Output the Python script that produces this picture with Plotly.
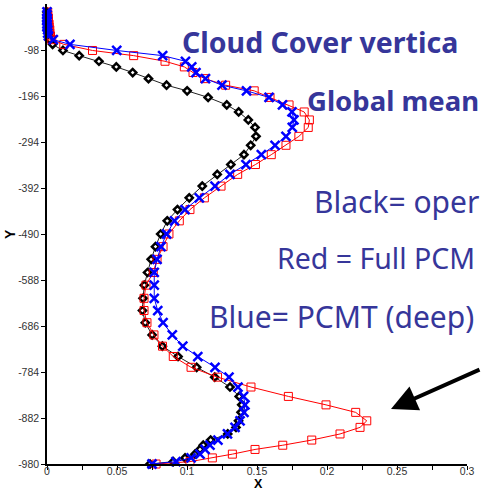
import plotly.graph_objects as go

# Model levels (plotted as negative pressure, top to bottom)
levels = [-17, -23, -30, -36, -43, -49, -55, -62, -68, -76,
          -86, -99, -110, -122, -134, -146, -159, -173, -185, -199,
          -215, -230, -247, -263, -282, -301, -321, -342, -363, -388,
          -413, -438, -462, -490, -517, -544, -572, -599, -627, -653,
          -679, -705, -729, -751, -774, -795, -816, -836, -854, -870,
          -888, -902, -916, -929, -940, -949, -959, -967, -975, -980]

# Cloud fraction: operational scheme
cover_oper = [0.0, 0.0, 0.0, 0.0, 0.0, 0.0005, 0.0005, 0.001, 0.0015, 0.002,
              0.004, 0.0114, 0.023, 0.0371, 0.0495, 0.0612, 0.0725, 0.0854, 0.1001, 0.1151,
              0.1284, 0.1369, 0.1438, 0.1486, 0.1493, 0.1455, 0.1407, 0.1313, 0.1216, 0.1109,
              0.1016, 0.0932, 0.0859, 0.0812, 0.0775, 0.0744, 0.0718, 0.0695, 0.0686, 0.0682,
              0.0702, 0.0751, 0.0824, 0.0936, 0.1069, 0.1198, 0.1307, 0.1373, 0.1391, 0.1386,
              0.1368, 0.135, 0.1291, 0.1169, 0.1116, 0.1093, 0.1057, 0.0986, 0.0902, 0.0736]

# Cloud fraction: full PCMT
cover_full = [0.0005, 0.0005, 0.001, 0.001, 0.0015, 0.0015, 0.002, 0.002, 0.0025, 0.0034,
              0.012, 0.0325, 0.0619, 0.0843, 0.0981, 0.1043, 0.1126, 0.1276, 0.148, 0.1593,
              0.1729, 0.1837, 0.1874, 0.1866, 0.1799, 0.1707, 0.1602, 0.1489, 0.1362, 0.1243,
              0.1124, 0.1021, 0.0945, 0.0871, 0.0829, 0.0786, 0.0759, 0.0707, 0.0693, 0.0693,
              0.0714, 0.0764, 0.0825, 0.0902, 0.1029, 0.1218, 0.1457, 0.1724, 0.1993, 0.2205,
              0.2284, 0.2236, 0.2093, 0.1891, 0.1684, 0.1486, 0.1324, 0.1181, 0.1021, 0.0779]

# Cloud fraction: PCMT deep convection only
cover_deep = [0.0, 0.0, 0.0, 0.0, 0.0, 0.0, 0.0005, 0.0005, 0.001, 0.0045,
              0.0164, 0.0498, 0.0826, 0.0989, 0.1034, 0.1064, 0.1132, 0.125, 0.1425, 0.1586,
              0.1682, 0.175, 0.1764, 0.1752, 0.1707, 0.1629, 0.1531, 0.1421, 0.1307, 0.12,
              0.1088, 0.0986, 0.0911, 0.0854, 0.0814, 0.0786, 0.0766, 0.0766, 0.0766, 0.0791,
              0.0829, 0.0895, 0.097, 0.1077, 0.12, 0.13, 0.1364, 0.1404, 0.1414, 0.1407,
              0.1379, 0.1343, 0.1289, 0.1221, 0.1164, 0.1129, 0.1093, 0.1029, 0.0921, 0.075]

x_ticks = [0, 0.05, 0.1, 0.15, 0.2, 0.25, 0.3]
x_tick_text = ["0", "0.05", "0.1", "0.15", "0.2", "0.25", "0.3"]
y_ticks = [-98, -196, -294, -392, -490, -588, -686, -784, -882, -980]
y_tick_text = [str(v) for v in y_ticks]

fig = go.Figure()
fig.add_trace(go.Scatter(
    x=cover_oper, y=levels, mode="lines+markers", cliponaxis=False,
    line=dict(color="#222222", width=1),
    marker=dict(symbol="diamond", size=5.5, color="white",
                line=dict(color="black", width=2.5)),
))
fig.add_trace(go.Scatter(
    x=cover_full, y=levels, mode="lines+markers", cliponaxis=False,
    line=dict(color="red", width=1),
    marker=dict(symbol="square-open", size=8, color="red",
                line=dict(color="red", width=1)),
))
fig.add_trace(go.Scatter(
    x=cover_deep, y=levels, mode="lines+markers", cliponaxis=False,
    line=dict(color="blue", width=1),
    marker=dict(symbol="x-thin-open", size=9, color="blue",
                line=dict(color="blue", width=2.5)),
))

W, H = 481, 492
ML, MR, MT, MB = 47, 14, 4, 28
pw, ph = W - ML - MR, H - MT - MB


def px(xp):
    return (xp - ML) / pw


def py(yp):
    return (H - MB - yp) / ph


text_color = "#36369a"
text_font = "Noto Sans, sans-serif"
labels = [
    ("<b>Cloud Cover vertica</b>", 180, 42, 28.5),
    ("<b>Global mean</b>", 305, 100, 27.5),
    ("Black= oper", 312, 202, 30),
    ("Red = Full PCM", 275, 258, 28.5),
    ("Blue= PCMT (deep)", 207, 316, 30),
]
annotations = []
for txt, xp, yp, fs in labels:
    annotations.append(dict(
        text=txt, x=px(xp), y=py(yp), xref="paper", yref="paper",
        xanchor="left", yanchor="middle", showarrow=False,
        font=dict(family=text_font, size=fs, color=text_color),
    ))

# Arrow pointing at the low-level peak of the full PCMT profile
annotations.append(dict(
    text="", x=px(391), y=py(409), xref="paper", yref="paper",
    ax=92, ay=-40, showarrow=True, arrowhead=2, arrowsize=1.3,
    arrowwidth=4, arrowcolor="black",
))
# Axis titles
annotations.append(dict(
    text="<b>X</b>", x=px(258), y=py(484), xref="paper", yref="paper",
    xanchor="center", yanchor="middle", showarrow=False, borderpad=0,
    font=dict(family="Liberation Sans, Arial", size=12.5, color="black"),
))
annotations.append(dict(
    text="<b>Y</b>", x=px(10), y=py(234), xref="paper", yref="paper",
    xanchor="center", yanchor="middle", showarrow=False, textangle=-90,
    font=dict(family="Liberation Sans, Arial", size=14, color="black"),
))

fig.update_layout(
    width=W, height=H,
    margin=dict(l=ML, r=MR, t=MT, b=MB),
    paper_bgcolor="white", plot_bgcolor="white",
    showlegend=False,
    annotations=annotations,
    xaxis=dict(
        range=[0, 0.3], tickvals=x_ticks, ticktext=x_tick_text,
        showgrid=False, zeroline=False, showline=True, linecolor="black", linewidth=1.5,
        ticks="outside", ticklen=4, tickcolor="black", ticklabelstandoff=-7,
        minor=dict(dtick=0.025, tick0=0, ticks="outside", ticklen=4, tickcolor="black"),
        tickfont=dict(family="Liberation Sans, Arial", size=10.5, color="#333333"),
    ),
    yaxis=dict(
        range=[-980, 0], tickvals=y_ticks, ticktext=y_tick_text,
        showgrid=False, zeroline=False, showline=True, linecolor="black", linewidth=1.5,
        ticks="outside", ticklen=4, tickcolor="black",
        tickfont=dict(family="Liberation Sans, Arial", size=10.5, color="#333333"),
    ),
)

fig.write_html("out.html")
